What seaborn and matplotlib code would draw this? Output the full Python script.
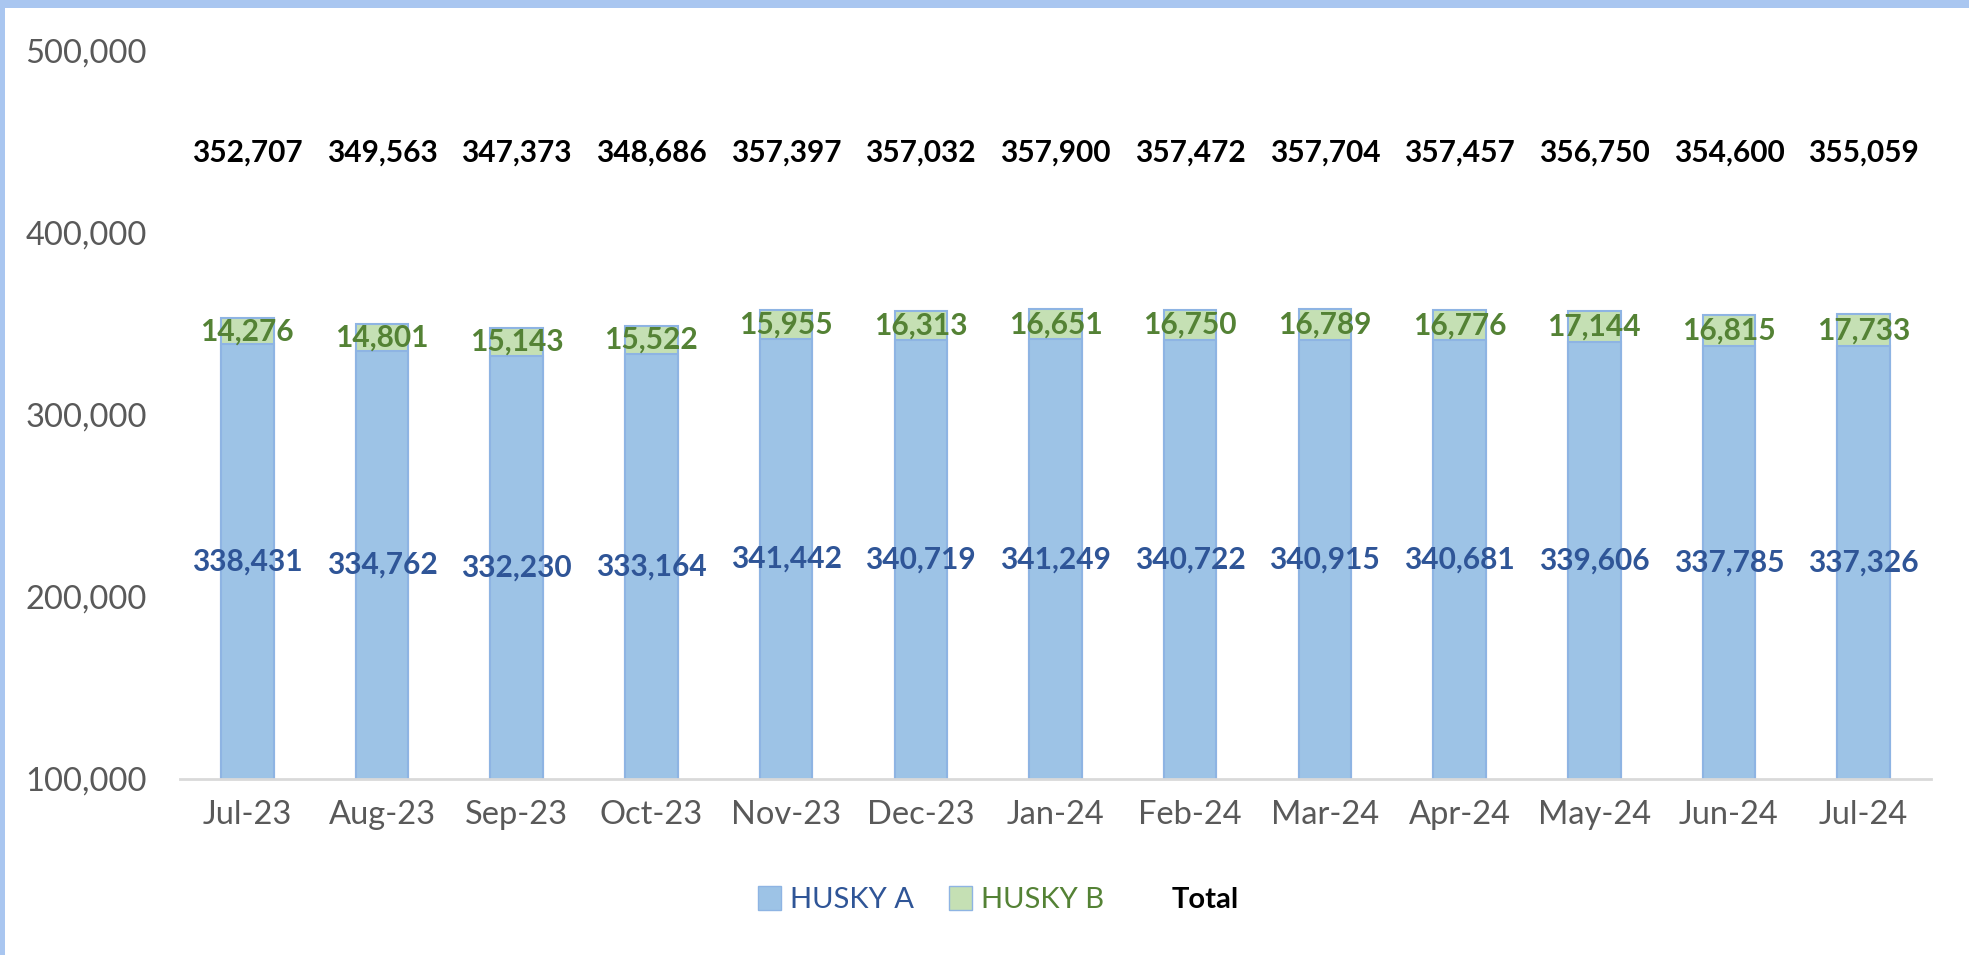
import numpy as np
import pandas as pd
import matplotlib
matplotlib.use('Agg')
import matplotlib.pyplot as plt
from matplotlib.patches import Patch, Rectangle
from matplotlib.lines import Line2D
import seaborn as sns

# data
months = ['Jul-23', 'Aug-23', 'Sep-23', 'Oct-23', 'Nov-23', 'Dec-23', 'Jan-24',
          'Feb-24', 'Mar-24', 'Apr-24', 'May-24', 'Jun-24', 'Jul-24']
husky_a = [338431, 334762, 332230, 333164, 341442, 340719, 341249,
           340722, 340915, 340681, 339606, 337785, 337326]
husky_b = [14276, 14801, 15143, 15522, 15955, 16313, 16651,
           16750, 16789, 16776, 17144, 16815, 17733]
total = [352707, 349563, 347373, 348686, 357397, 357032, 357900,
         357472, 357704, 357457, 356750, 354600, 355059]

df = pd.DataFrame({'month': months, 'A': husky_a, 'B': husky_b, 'Total': total})

sns.set_style('white')
plt.rcParams['font.family'] = ['Lato', 'DejaVu Sans']

col_a = '#9DC3E6'
col_b = '#C5E0B4'
edge = '#8EB4E3'
txt_a = '#2F5597'
txt_b = '#548235'
gray = '#595959'

fig = plt.figure(figsize=(19.69, 9.55), dpi=100)
ax = fig.add_axes([0.0914, 0.1843, 0.8893, 0.7633])

# stacked: full total in green, HUSKY A on top of it in blue
sns.barplot(data=df, x='month', y='Total', color=col_b, width=0.39,
            edgecolor=edge, linewidth=1.5, saturation=1, ax=ax)
sns.barplot(data=df, x='month', y='A', color=col_a, width=0.39,
            edgecolor=edge, linewidth=1.5, saturation=1, ax=ax)

ax.set_ylim(100000, 500000)
ax.set_xlim(-0.5, len(months) - 0.5)
ax.set_yticks([100000, 200000, 300000, 400000, 500000])
ax.yaxis.set_major_formatter(matplotlib.ticker.FuncFormatter(lambda v, p: f'{int(v):,}'))
ax.set_xlabel('')
ax.set_ylabel('')
ax.tick_params(axis='y', length=0, labelsize=23.5, labelcolor=gray, pad=24)
ax.tick_params(axis='x', which='major', length=0, labelsize=23.5, labelcolor=gray, pad=15)
ax.set_xticks(np.arange(-0.5, len(months)), minor=True)
ax.tick_params(axis='x', which='minor', length=9, width=2, color='#D9D9D9')

for s in ['top', 'right', 'left']:
    ax.spines[s].set_visible(False)
ax.spines['bottom'].set_color('#D9D9D9')
ax.spines['bottom'].set_linewidth(2)

# data labels
for i in range(len(months)):
    ax.text(i, 100000 + (husky_a[i] - 100000) / 2, f'{husky_a[i]:,}', ha='center', va='center',
            fontsize=21.5, fontweight='bold', color=txt_a)
    ax.text(i, husky_a[i] + husky_b[i] / 2, f'{husky_b[i]:,}', ha='center', va='center',
            fontsize=21.5, fontweight='bold', color=txt_b)
    ax.text(i, 444000, f'{total[i]:,}', ha='center', va='center',
            fontsize=21.5, fontweight='bold', color='black')

# legend
handles = [Patch(facecolor=col_a, edgecolor=edge),
           Patch(facecolor=col_b, edgecolor=edge),
           Line2D([], [], alpha=0)]
leg = fig.legend(handles, ['HUSKY A', 'HUSKY B', 'Total'], loc='center',
                 bbox_to_anchor=(0.507, 0.058), ncol=3, frameon=False, fontsize=21,
                 handlelength=0.8, handleheight=0.9, handletextpad=0.3, columnspacing=1.2,
                 labelcolor=[txt_a, txt_b, 'black'])
leg.get_texts()[2].set_fontweight('bold')

# window border strips
fig.patches.append(Rectangle((0, 1 - 8 / 955), 1, 8 / 955, transform=fig.transFigure,
                             facecolor='#A9C6F0', edgecolor='none'))
fig.patches.append(Rectangle((0, 0), 5 / 1969, 1, transform=fig.transFigure,
                             facecolor='#A9C6F0', edgecolor='none'))

fig.savefig('out.png', dpi=100)
